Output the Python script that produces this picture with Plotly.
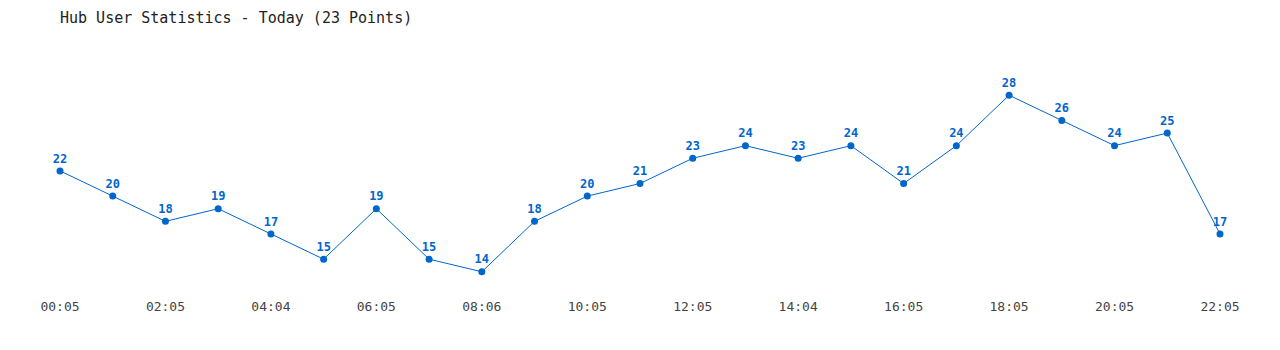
import plotly.graph_objects as go

values = [22, 20, 18, 19, 17, 15, 19, 15, 14, 18, 20, 21, 23, 24, 23, 24, 21, 24, 28, 26, 24, 25, 17]
tick_labels = ["00:05", "02:05", "04:04", "06:05", "08:06", "10:05", "12:05", "14:04", "16:05", "18:05", "20:05", "22:05"]
title_text = "Hub User Statistics - Today (23 Points)"

x = list(range(len(values)))
tick_positions = x[::2]

color = "#0066cc"
font_family = "DejaVu Sans Mono, Liberation Mono, monospace"

fig = go.Figure()
fig.add_trace(go.Scatter(
    x=x, y=values,
    mode="lines+markers+text",
    line=dict(color=color, width=1),
    marker=dict(color=color, size=7),
    text=[str(v) for v in values],
    textposition="top center",
    textfont=dict(family=font_family, size=12, color=color, weight="bold"),
    hoverinfo="skip",
    cliponaxis=False,
))

fig.update_layout(
    width=1280, height=350,
    margin=dict(l=60, r=60, t=70, b=53),
    paper_bgcolor="white", plot_bgcolor="white",
    showlegend=False,
    title=dict(text=title_text, x=60/1280, xanchor="left", xref="container",
               y=1 - 18/350, yanchor="middle", yref="container",
               font=dict(family=font_family, size=15, color="#222222")),
    xaxis=dict(range=[0, 22], tickmode="array", tickvals=tick_positions, ticktext=tick_labels,
               showgrid=False, zeroline=False, showline=False, ticks="",
               tickfont=dict(family=font_family, size=13, color="#444444")),
    yaxis=dict(range=[12, 30], visible=False, showgrid=False, zeroline=False),
)

fig.write_html("out.html")
